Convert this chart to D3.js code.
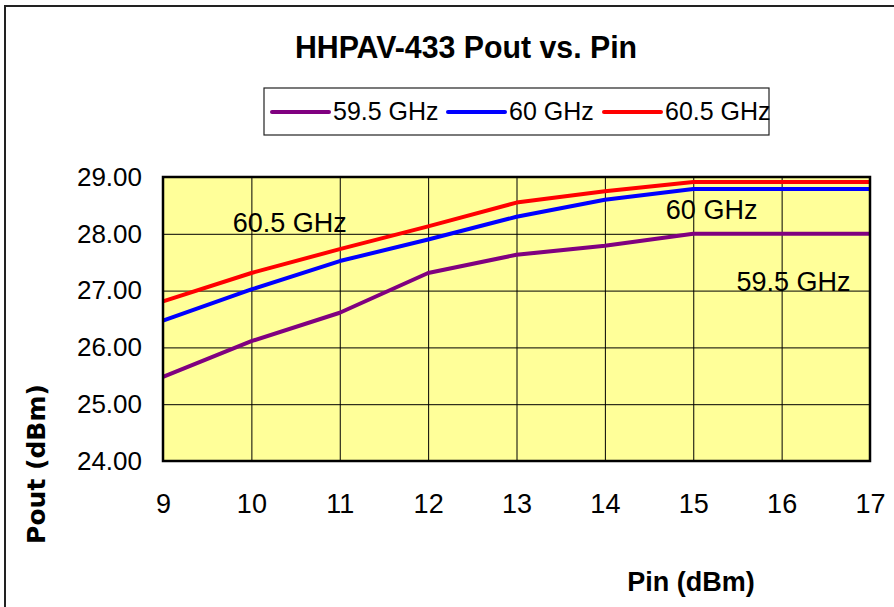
<!DOCTYPE html>
<html>
<head>
<meta charset="utf-8">
<script src="https://cdn.jsdelivr.net/npm/d3@7"></script>
<style>
  body { margin: 0; background: #fff; }
  text { font-family: "Liberation Sans", Arial, sans-serif; fill: #000; }
</style>
</head>
<body>
<svg id="chart" width="894" height="607"></svg>
<script>
(function(){
  // data
  var pin = [9, 10, 11, 12, 13, 14, 15, 16, 17]
  var pout595 = [25.48, 26.11, 26.61, 27.31, 27.63, 27.79, 28.00, 28.00, 28.00]
  var pout60  = [26.47, 27.02, 27.52, 27.90, 28.30, 28.60, 28.79, 28.79, 28.79]
  var pout605 = [26.81, 27.31, 27.73, 28.13, 28.55, 28.75, 28.91, 28.91, 28.91]
  var seriesNames = ['59.5 GHz', '60 GHz', '60.5 GHz']
  var seriesColors = ['#800080', '#0000ff', '#ff0000']
  var yTicks = [24, 25, 26, 27, 28, 29]
  var xTicks = [9, 10, 11, 12, 13, 14, 15, 16, 17]
  // in-plot labels: [text, pin, pout]
  var notes = [['60.5 GHz', 9.79, 28.04], ['60 GHz', 14.69, 28.26], ['59.5 GHz', 15.49, 27.0]]

  var svg = d3.select('#chart'),
      width = +svg.attr('width'),
      height = +svg.attr('height')

  var plot = {left: 163, top: 177, right: 870, bottom: 461}

  var x = d3.scaleLinear().domain([9, 17]).range([plot.left, plot.right])
  var y = d3.scaleLinear().domain([24, 29]).range([plot.bottom, plot.top])

  // outer frame (only left and top edges show)
  svg.append('rect')
    .attr('x', 5).attr('y', 6).attr('width', width + 20).attr('height', height + 20)
    .attr('fill', 'none').attr('stroke', '#222').attr('stroke-width', 2)

  svg.append('text')
    .attr('transform', 'translate(466,58) scale(1.045,1.05)')
    .attr('text-anchor', 'middle')
    .attr('font-size', 29).attr('font-weight', 'bold')
    .text('HHPAV-433 Pout vs. Pin')

  // plot background
  svg.append('rect')
    .attr('x', plot.left).attr('y', plot.top)
    .attr('width', plot.right - plot.left).attr('height', plot.bottom - plot.top)
    .attr('fill', '#ffff99')

  // grid
  svg.append('g')
    .attr('transform', 'translate(0,' + plot.bottom + ')')
    .call(d3.axisBottom(x).tickValues(xTicks).tickSize(-(plot.bottom - plot.top)).tickFormat(''))
    .call(g => g.select('.domain').remove())
    .selectAll('line').attr('stroke', '#000').attr('stroke-width', 1)

  svg.append('g')
    .attr('transform', 'translate(' + plot.left + ',0)')
    .call(d3.axisLeft(y).tickValues(yTicks).tickSize(-(plot.right - plot.left)).tickFormat(''))
    .call(g => g.select('.domain').remove())
    .selectAll('line').attr('stroke', '#000').attr('stroke-width', 1)

  // tick labels
  var yAxis = svg.append('g')
    .attr('transform', 'translate(' + plot.left + ',0)')
    .call(d3.axisLeft(y).tickValues(yTicks).tickSize(0).tickPadding(21).tickFormat(d3.format('.2f')))
  yAxis.select('.domain').remove()
  yAxis.selectAll('text')
    .style('font-family', '"Liberation Sans", Arial, sans-serif')
    .attr('font-size', 26).attr('fill', '#000')

  var xAxis = svg.append('g')
    .attr('transform', 'translate(0,' + plot.bottom + ')')
    .call(d3.axisBottom(x).tickValues(xTicks).tickSize(0).tickPadding(33).tickFormat(d3.format('d')))
  xAxis.select('.domain').remove()
  xAxis.selectAll('text')
    .style('font-family', '"Liberation Sans", Arial, sans-serif')
    .attr('font-size', 27).attr('fill', '#000')

  // lines
  var lineGenerator = d3.line()
  var series = [pout595, pout60, pout605]
  series.forEach(function(vals, si) {
    svg.append('path')
      .attr('d', lineGenerator(vals.map((v, i) => [x(pin[i]), y(v)])))
      .attr('fill', 'none')
      .attr('stroke', seriesColors[si])
      .attr('stroke-width', 4)
      .attr('stroke-linejoin', 'round')
  })

  // plot border
  svg.append('rect')
    .attr('x', plot.left).attr('y', plot.top)
    .attr('width', plot.right - plot.left).attr('height', plot.bottom - plot.top)
    .attr('fill', 'none').attr('stroke', '#000').attr('stroke-width', 2.5)

  // in-plot labels
  svg.append('g').selectAll('text')
    .data(notes).enter().append('text')
    .attr('x', d => x(d[1])).attr('y', d => y(d[2]))
    .attr('font-size', 27)
    .text(d => d[0])

  // legend
  var legend = svg.append('g')
  legend.append('rect')
    .attr('x', 264).attr('y', 88).attr('width', 505).attr('height', 47)
    .attr('fill', '#fff').attr('stroke', '#222').attr('stroke-width', 1.2)
  var legendX = [272, 448, 604]
  seriesNames.forEach(function(name, i) {
    legend.append('line')
      .attr('x1', legendX[i]).attr('x2', legendX[i] + 57)
      .attr('y1', 112).attr('y2', 112)
      .attr('stroke', seriesColors[i]).attr('stroke-width', 4)
      .attr('stroke-linecap', 'round')
    legend.append('text')
      .attr('x', legendX[i] + 61).attr('y', 120)
      .attr('font-size', 25)
      .text(name)
  })

  // axis titles
  svg.append('text')
    .attr('x', 691).attr('y', 591)
    .attr('text-anchor', 'middle')
    .attr('font-size', 27).attr('font-weight', 'bold')
    .text('Pin (dBm)')

  svg.append('text')
    .attr('transform', 'translate(45,464) rotate(-90)')
    .attr('text-anchor', 'middle')
    .style('font-family', '"DejaVu Sans", sans-serif')
    .attr('font-size', 25).attr('font-weight', 'bold')
    .text('Pout (dBm)')
})()
</script>
</body>
</html>
